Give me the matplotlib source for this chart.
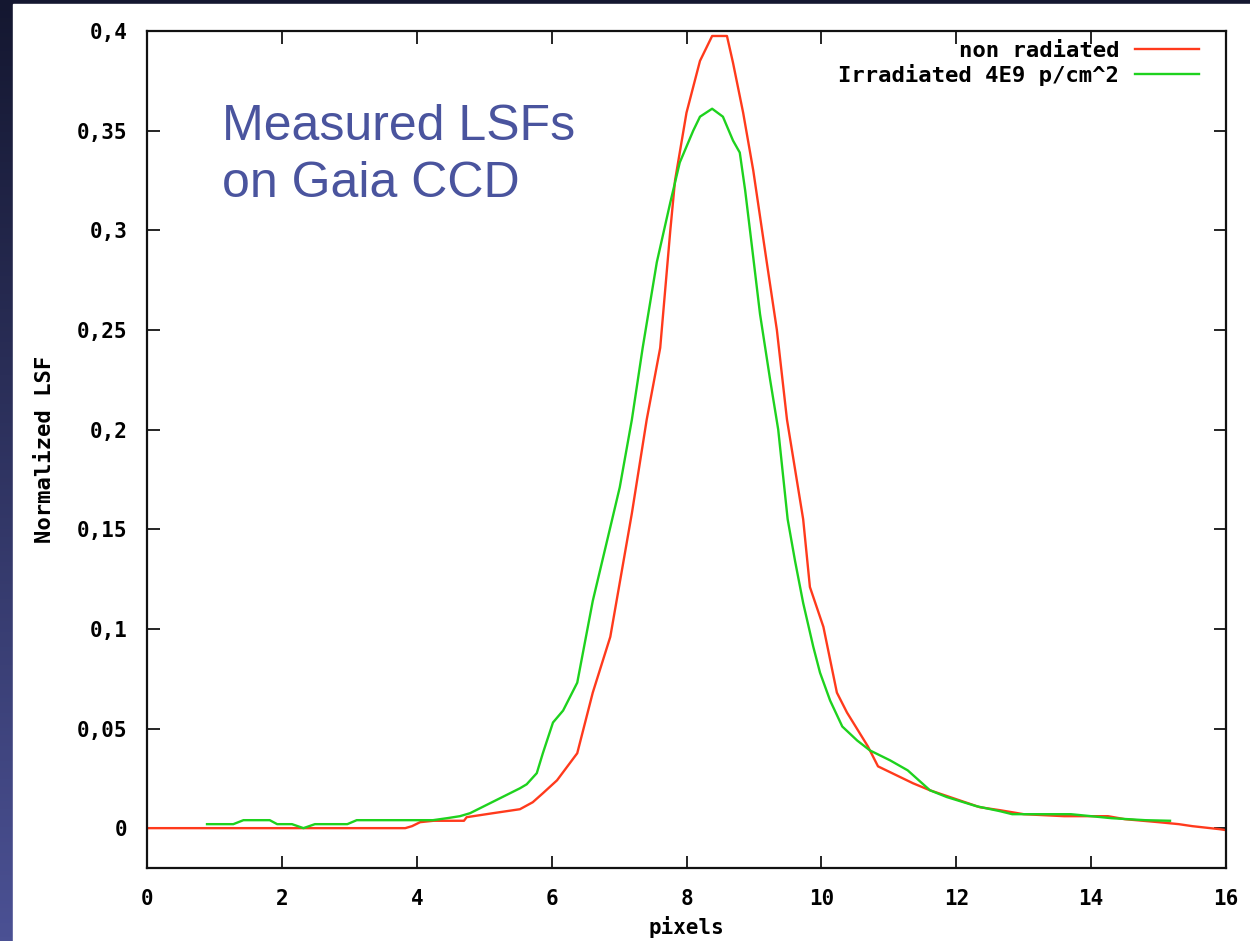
import numpy as np
import matplotlib
matplotlib.use("Agg")
import matplotlib.pyplot as plt
from matplotlib.patches import Rectangle

# ---------------- data ----------------
red_x = [0, 3.83, 3.93, 4.05, 4.25, 4.70, 4.74, 5.13, 5.53, 5.72, 5.87, 6.08, 6.38,
         6.61, 6.87, 7.19, 7.41, 7.61, 7.76, 7.83, 8.00, 8.20, 8.38, 8.60, 8.69,
         8.84, 8.99, 9.19, 9.34, 9.49, 9.61, 9.73, 9.83, 10.03, 10.23, 10.38, 10.69,
         10.84, 11.36, 11.61, 12.35, 12.65, 13.0, 13.6, 14.25, 14.5, 15.0, 15.3,
         15.5, 15.9, 16.0]
red_y = [0, 0, 0.001, 0.003, 0.0037, 0.0037, 0.0055, 0.0075, 0.0095, 0.013, 0.0175,
         0.024, 0.0376, 0.068, 0.096, 0.158, 0.205, 0.241, 0.300, 0.325, 0.359,
         0.385, 0.3975, 0.3975, 0.384, 0.359, 0.33, 0.284, 0.25, 0.205, 0.18, 0.155,
         0.121, 0.101, 0.068, 0.058, 0.041, 0.031, 0.0225, 0.019, 0.0105, 0.009,
         0.007, 0.006, 0.006, 0.0045, 0.003, 0.002, 0.001, -0.0005, -0.001]

green_x = [0.89, 1.28, 1.43, 1.82, 1.93, 2.15, 2.32, 2.49, 2.97, 3.11, 4.24, 4.45,
           4.64, 4.79, 5.53, 5.63, 5.78, 5.87, 6.02, 6.17, 6.38, 6.61, 6.87, 7.01,
           7.19, 7.35, 7.56, 7.76, 7.90, 8.10, 8.20, 8.38, 8.54, 8.69, 8.79, 8.87,
           8.97, 9.09, 9.24, 9.36, 9.50, 9.61, 9.73, 9.88, 9.98, 10.13, 10.31,
           10.53, 10.72, 11.02, 11.28, 11.61, 11.86, 12.30, 12.65, 12.83, 13.70,
           14.0, 14.3, 14.8, 15.17]
green_y = [0.002, 0.002, 0.004, 0.004, 0.002, 0.002, 0.0, 0.002, 0.002, 0.004,
           0.004, 0.005, 0.006, 0.0075, 0.020, 0.022, 0.0276, 0.0376, 0.053, 0.059,
           0.073, 0.114, 0.151, 0.171, 0.205, 0.241, 0.284, 0.314, 0.334, 0.350,
           0.357, 0.361, 0.357, 0.345, 0.339, 0.320, 0.292, 0.258, 0.225, 0.2,
           0.155, 0.134, 0.113, 0.091, 0.078, 0.064, 0.051, 0.044, 0.039, 0.034,
           0.029, 0.019, 0.0156, 0.011, 0.0085, 0.007, 0.007, 0.006, 0.005, 0.004,
           0.0037]

series_labels = ["non radiated", "Irradiated 4E9 p/cm^2"]
x_ticks = [0, 2, 4, 6, 8, 10, 12, 14, 16]
y_ticks = [0, 0.05, 0.1, 0.15, 0.2, 0.25, 0.3, 0.35, 0.4]
y_tick_labels = ["0", "0,05", "0,1", "0,15", "0,2", "0,25", "0,3", "0,35", "0,4"]
x_label = "pixels"
y_label = "Normalized LSF"
title_lines = ["Measured LSFs", "on Gaia CCD"]

# ---------------- figure ----------------
W, H = 1250, 941
fig = plt.figure(figsize=(W / 100, H / 100), dpi=100)

# dark gradient background (slide style)
bg = fig.add_axes([0, 0, 1, 1], zorder=-10)
grad = np.linspace(0, 1, 256).reshape(-1, 1)
top_c = np.array([0x14, 0x17, 0x30]) / 255
bot_c = np.array([0x4b, 0x51, 0x94]) / 255
img = top_c[None, None, :] * (1 - grad[..., None]) + bot_c[None, None, :] * grad[..., None]
bg.imshow(img, aspect="auto", extent=[0, 1, 0, 1], origin="upper")
bg.add_patch(Rectangle((13 / W, 0), 1 - 13 / W, 1 - 4 / H, color="white",
                       transform=bg.transAxes, zorder=2))
bg.set_axis_off()

mono = "DejaVu Sans Mono"
ax = fig.add_axes([147 / W, 1 - 868 / H, (1226 - 147) / W, (868 - 31) / H])
ax.set_facecolor("white")

ax.plot(red_x, red_y, color="#ff3a1c", lw=1.7, label=series_labels[0])
ax.plot(green_x, green_y, color="#1ed21e", lw=1.7, label=series_labels[1])

ax.set_xlim(0, 16)
ax.set_ylim(-0.02, 0.4)
ax.set_xticks(x_ticks)
ax.set_xticklabels([str(t) for t in x_ticks])
ax.set_yticks(y_ticks)
ax.set_yticklabels(y_tick_labels)
ax.tick_params(direction="in", length=9, width=1.2, top=True, right=True,
               labelsize=15, pad=14, color="black")
ax.tick_params(axis="x", pad=15)
for lab in ax.get_xticklabels() + ax.get_yticklabels():
    lab.set_fontfamily(mono)
    lab.set_fontweight("bold")
for sp in ax.spines.values():
    sp.set_linewidth(1.6)
    sp.set_color("#111111")

ax.set_xlabel(x_label, fontfamily=mono, fontweight="bold", fontsize=15, labelpad=5)
ax.set_ylabel(y_label, fontfamily=mono, fontweight="bold", fontsize=16, labelpad=16)

leg = ax.legend(loc="upper right", bbox_to_anchor=(0.975, 0.988), frameon=False,
                markerfirst=False, handlelength=2.9, handletextpad=0.7,
                labelspacing=0.12, borderpad=0, borderaxespad=0,
                prop={"family": mono, "weight": "bold", "size": 16})

title_color = "#4a549e"
ax.text(0.0695, (868 - 140) / 837, title_lines[0], transform=ax.transAxes,
        fontfamily="Liberation Sans", fontsize=36, color=title_color, va="baseline")
ax.text(0.0695, (868 - 197) / 837, title_lines[1], transform=ax.transAxes,
        fontfamily="Liberation Sans", fontsize=36, color=title_color, va="baseline")

fig.savefig("out.png", dpi=100)
